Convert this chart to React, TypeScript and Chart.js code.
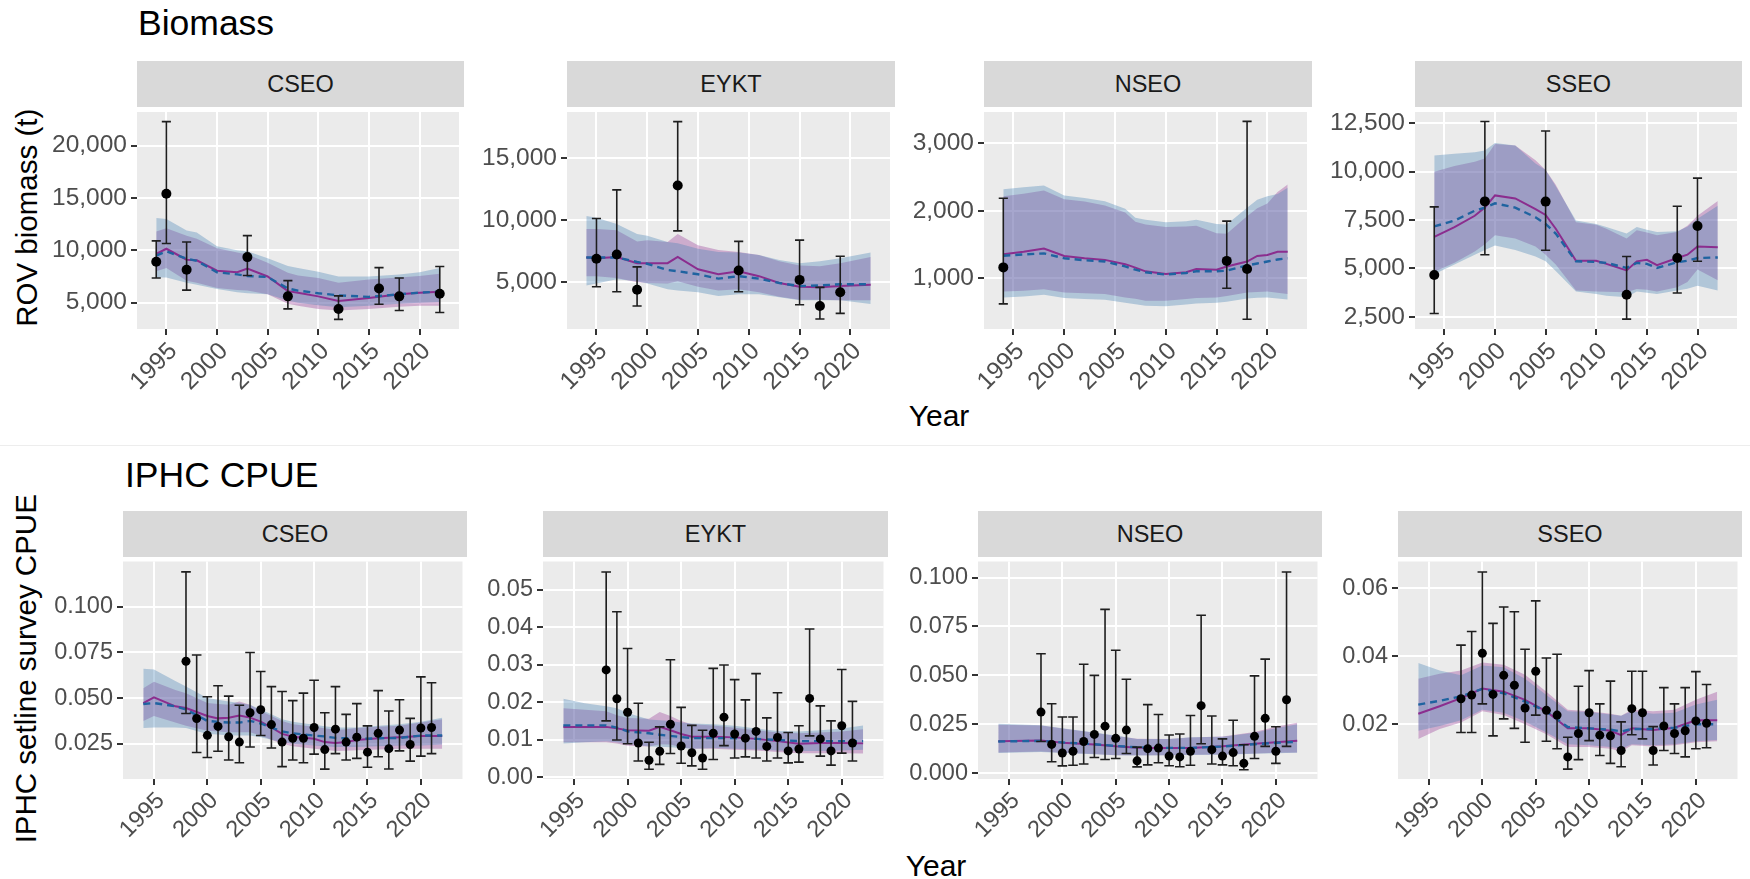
import React, { useEffect, useRef } from "react";
import { Chart, registerables } from "chart.js";

Chart.register(...registerables);

const FONT = "'Liberation Sans', Arial, Helvetica, sans-serif";

// ---------------- DATA ----------------
const xTickYears = [1995, 2000, 2005, 2010, 2015, 2020];
const cpueObsYears = [1998, 1999, 2000, 2001, 2002, 2003, 2004, 2005, 2006, 2007, 2008, 2009, 2010, 2011, 2012, 2013, 2014, 2015, 2016, 2017, 2018, 2019, 2020, 2021];

// Biomass - CSEO
const bioCseoYTicks = [5000, 10000, 15000, 20000];
const bioCseoYLabels = ["5,000", "10,000", "15,000", "20,000"];
const bioCseoFitYears = [1994, 1995, 1997, 1998, 2000, 2002, 2003, 2005, 2007, 2008, 2010, 2012, 2015, 2018, 2020, 2022];
const bioCseoFit1 = [9650, 10150, 9100, 9050, 8050, 7900, 8250, 7500, 6100, 5950, 5600, 5150, 5450, 5800, 5950, 6050];
const bioCseoFit1Lo = [8000, 8300, 7100, 6900, 6400, 6200, 6150, 5800, 4900, 4700, 4400, 4250, 4400, 4600, 4700, 4700];
const bioCseoFit1Hi = [11800, 12100, 11400, 11100, 10200, 9800, 9600, 8800, 7850, 7600, 7350, 6900, 7200, 7400, 7550, 7750];
const bioCseoFit2 = [9500, 9900, 9200, 9000, 7900, 7700, 7550, 7450, 6350, 6150, 5900, 5700, 5550, 5800, 5950, 6050];
const bioCseoFit2Lo = [7400, 7400, 6900, 6700, 6300, 6000, 5900, 5800, 5200, 5000, 4750, 4550, 4700, 4900, 5000, 5050];
const bioCseoFit2Hi = [13100, 13000, 11900, 11700, 10400, 10000, 9900, 9250, 8500, 8300, 7950, 7500, 7500, 7700, 7900, 8300];
const bioCseoObsYears = [1994, 1995, 1997, 2003, 2007, 2012, 2016, 2018, 2022];
const bioCseoObs = [8900, 15400, 8150, 9350, 5600, 4400, 6350, 5600, 5850];
const bioCseoObsLo = [7350, 10650, 6200, 7600, 4400, 3400, 4850, 4250, 4050];
const bioCseoObsHi = [10900, 22300, 10800, 11400, 7100, 5650, 8350, 7350, 8450];

// Biomass - EYKT
const bioEyktYTicks = [5000, 10000, 15000];
const bioEyktYLabels = ["5,000", "10,000", "15,000"];
const bioEyktFitYears = [1994, 1995, 1997, 1999, 2000, 2002, 2003, 2005, 2007, 2009, 2011, 2013, 2015, 2017, 2019, 2022];
const bioEyktFit1 = [7000, 6950, 7050, 6550, 6550, 6550, 7050, 6050, 5650, 5900, 5500, 4950, 4650, 4600, 4700, 4800];
const bioEyktFit1Lo = [5500, 5500, 5350, 5000, 4950, 4900, 5100, 4650, 4350, 4450, 4200, 3850, 3600, 3600, 3550, 3550];
const bioEyktFit1Hi = [9300, 9300, 9200, 8300, 8400, 8250, 8900, 8000, 7600, 7450, 7200, 6700, 6350, 6300, 6550, 7050];
const bioEyktFit2 = [7000, 7000, 7000, 6650, 6500, 6000, 5900, 5650, 5300, 5500, 5300, 4950, 4700, 4750, 4850, 4850];
const bioEyktFit2Lo = [4750, 4900, 5250, 5100, 4900, 4450, 4350, 4200, 3900, 4050, 4050, 3800, 3550, 3550, 3550, 3250];
const bioEyktFit2Hi = [10350, 10200, 9700, 8900, 8750, 8250, 8150, 7700, 7450, 7400, 7200, 6800, 6550, 6700, 6950, 7400];
const bioEyktObsYears = [1995, 1997, 1999, 2003, 2009, 2015, 2017, 2019];
const bioEyktObs = [6900, 7250, 4400, 12800, 5950, 5200, 3100, 4200];
const bioEyktObsLo = [4650, 4250, 3100, 9150, 4250, 3200, 2050, 2500];
const bioEyktObsHi = [10150, 12450, 6250, 17950, 8300, 8400, 4600, 7100];

// Biomass - NSEO
const bioNseoYTicks = [1000, 2000, 3000];
const bioNseoYLabels = ["1,000", "2,000", "3,000"];
const bioNseoFitYears = [1994, 1996, 1998, 2000, 2002, 2004, 2006, 2007, 2008, 2010, 2012, 2013, 2015, 2016, 2018, 2019, 2020, 2021, 2022];
const bioNseoFit1 = [1357, 1395, 1443, 1333, 1299, 1275, 1212, 1160, 1106, 1067, 1092, 1140, 1130, 1178, 1251, 1333, 1347, 1395, 1395];
const bioNseoFit1Lo = [807, 820, 841, 793, 780, 769, 720, 700, 672, 672, 696, 710, 720, 740, 793, 800, 807, 790, 769];
const bioNseoFit1Hi = [2215, 2253, 2300, 2170, 2140, 2080, 1975, 1840, 1800, 1760, 1770, 1780, 1670, 1660, 1920, 2040, 2110, 2280, 2390];
const bioNseoFit2 = [1337, 1355, 1371, 1299, 1270, 1251, 1178, 1130, 1092, 1058, 1082, 1106, 1106, 1116, 1193, 1222, 1251, 1280, 1299];
const bioNseoFit2Lo = [720, 735, 760, 710, 695, 685, 640, 620, 595, 590, 615, 630, 640, 655, 705, 715, 720, 705, 690];
const bioNseoFit2Hi = [2321, 2350, 2374, 2229, 2190, 2142, 2030, 1900, 1870, 1830, 1845, 1868, 1805, 1800, 2046, 2166, 2215, 2250, 2340];
const bioNseoObsYears = [1994, 2016, 2018];
const bioNseoObs = [1164, 1260, 1140];
const bioNseoObsLo = [624, 855, 397];
const bioNseoObsHi = [2186, 1848, 3323];

// Biomass - SSEO
const bioSseoYTicks = [2500, 5000, 7500, 10000, 12500];
const bioSseoYLabels = ["2,500", "5,000", "7,500", "10,000", "12,500"];
const bioSseoFitYears = [1994, 1996, 1998, 1999, 2000, 2002, 2004, 2005, 2006, 2008, 2010, 2011, 2013, 2014, 2015, 2016, 2018, 2019, 2020, 2022];
const bioSseoFit1 = [6630, 7130, 7720, 8140, 8770, 8610, 8060, 7760, 7050, 5400, 5400, 5240, 4900, 5370, 5450, 5170, 5540, 5710, 6130, 6090];
const bioSseoFit1Lo = [4830, 5290, 5870, 6250, 6720, 6550, 6130, 5710, 5200, 3860, 3820, 3800, 3770, 3940, 3900, 3820, 4030, 4300, 4950, 4400];
const bioSseoFit1Hi = [9990, 10280, 10500, 10670, 11420, 11340, 10580, 10080, 9320, 7390, 7250, 7050, 6550, 6970, 6850, 6720, 6880, 7200, 7720, 8480];
const bioSseoFit2 = [7170, 7470, 7980, 8140, 8360, 8140, 7640, 7300, 6800, 5370, 5340, 5290, 5030, 5290, 5240, 5030, 5320, 5400, 5540, 5570];
const bioSseoFit2Lo = [4700, 5200, 5710, 5950, 6180, 5960, 5620, 5370, 4870, 3820, 3690, 3600, 3520, 3820, 3750, 3690, 3860, 3950, 4110, 3860];
const bioSseoFit2Hi = [10830, 10920, 11000, 11090, 11470, 11340, 10410, 10080, 9240, 7470, 7300, 7140, 6800, 7140, 7000, 6880, 6920, 7150, 7560, 8230];
const bioSseoObsYears = [1994, 1999, 2005, 2013, 2018, 2020];
const bioSseoObs = [4660, 8460, 8450, 3650, 5540, 7190];
const bioSseoObsLo = [2680, 5710, 5940, 2390, 3740, 5370];
const bioSseoObsHi = [8180, 12580, 12090, 5620, 8210, 9660];

// IPHC CPUE - CSEO
const cpueCseoYTicks = [0.025, 0.05, 0.075, 0.1];
const cpueCseoYLabels = ["0.025", "0.050", "0.075", "0.100"];
const cpueCseoFitYears = [1994, 1995, 1997, 1998, 2000, 2001, 2002, 2003, 2004, 2005, 2006, 2007, 2008, 2010, 2011, 2012, 2013, 2014, 2016, 2018, 2020, 2022];
const cpueCseoFit1 = [0.0473, 0.0504, 0.0455, 0.0446, 0.0402, 0.0389, 0.0393, 0.0405, 0.0393, 0.0371, 0.0339, 0.0304, 0.0289, 0.0277, 0.0259, 0.0254, 0.0259, 0.0271, 0.028, 0.0286, 0.0293, 0.0293];
const cpueCseoFit1Lo = [0.0375, 0.0402, 0.0366, 0.0348, 0.0321, 0.0317, 0.0313, 0.0313, 0.0313, 0.0295, 0.0272, 0.025, 0.0236, 0.0223, 0.0217, 0.0211, 0.0212, 0.0214, 0.0218, 0.0223, 0.0223, 0.0223];
const cpueCseoFit1Hi = [0.0554, 0.0589, 0.0545, 0.0527, 0.0473, 0.0468, 0.0464, 0.0482, 0.0464, 0.0429, 0.0402, 0.0375, 0.0357, 0.0343, 0.0335, 0.0325, 0.033, 0.0336, 0.0343, 0.0348, 0.0366, 0.0384];
const cpueCseoFit2 = [0.0468, 0.0473, 0.0455, 0.0438, 0.0375, 0.037, 0.0366, 0.0366, 0.0375, 0.0361, 0.0339, 0.0318, 0.0307, 0.0295, 0.029, 0.0282, 0.028, 0.0277, 0.028, 0.0282, 0.0295, 0.0295];
const cpueCseoFit2Lo = [0.0336, 0.0339, 0.0339, 0.0336, 0.0304, 0.03, 0.0295, 0.0295, 0.0295, 0.0286, 0.0272, 0.0259, 0.025, 0.0241, 0.0236, 0.0232, 0.0232, 0.0232, 0.0236, 0.0241, 0.0241, 0.0246];
const cpueCseoFit2Hi = [0.0661, 0.0657, 0.0593, 0.0563, 0.05, 0.0491, 0.0482, 0.0473, 0.0464, 0.0438, 0.0411, 0.0384, 0.0371, 0.0354, 0.0346, 0.0339, 0.0339, 0.0339, 0.0348, 0.0357, 0.0371, 0.0393];
const cpueCseoObs = [0.0702, 0.0388, 0.0296, 0.0345, 0.0288, 0.0259, 0.042, 0.0436, 0.0355, 0.0259, 0.028, 0.028, 0.0339, 0.0218, 0.033, 0.0259, 0.0286, 0.0204, 0.0307, 0.0223, 0.0325, 0.0246, 0.0336, 0.0339];
const cpueCseoObsLo = [0.0416, 0.0202, 0.0175, 0.0209, 0.0161, 0.0146, 0.0232, 0.0295, 0.0227, 0.0125, 0.0161, 0.0146, 0.0193, 0.0111, 0.0196, 0.0161, 0.017, 0.0121, 0.0179, 0.0112, 0.0211, 0.0155, 0.0182, 0.0196];
const cpueCseoObsHi = [0.1191, 0.0736, 0.0507, 0.0568, 0.0511, 0.0461, 0.075, 0.0646, 0.0563, 0.0536, 0.0486, 0.0527, 0.0598, 0.042, 0.0563, 0.0411, 0.047, 0.0348, 0.0541, 0.0429, 0.0491, 0.0389, 0.0616, 0.0584];

// IPHC CPUE - EYKT
const cpueEyktYTicks = [0, 0.01, 0.02, 0.03, 0.04, 0.05];
const cpueEyktYLabels = ["0.00", "0.01", "0.02", "0.03", "0.04", "0.05"];
const cpueEyktFitYears = [1994, 1996, 1998, 1999, 2000, 2002, 2003, 2004, 2005, 2006, 2008, 2010, 2012, 2014, 2016, 2018, 2020, 2022];
const cpueEyktFit1 = [0.0134, 0.0134, 0.0134, 0.013, 0.0125, 0.0124, 0.0134, 0.0125, 0.0115, 0.0108, 0.0108, 0.0106, 0.0102, 0.0096, 0.0089, 0.0091, 0.0091, 0.009];
const cpueEyktFit1Lo = [0.0093, 0.0093, 0.0093, 0.009, 0.0084, 0.0082, 0.0088, 0.0087, 0.008, 0.0076, 0.0076, 0.0073, 0.0071, 0.0067, 0.0064, 0.0064, 0.0064, 0.0063];
const cpueEyktFit1Hi = [0.0184, 0.018, 0.0176, 0.0165, 0.0158, 0.0156, 0.0174, 0.0163, 0.015, 0.0141, 0.0138, 0.0132, 0.0125, 0.0119, 0.0117, 0.0119, 0.0122, 0.0128];
const cpueEyktFit2 = [0.0138, 0.0138, 0.0138, 0.0132, 0.0122, 0.0117, 0.0113, 0.011, 0.0107, 0.0104, 0.0104, 0.0104, 0.0102, 0.0099, 0.0096, 0.0096, 0.0096, 0.0096];
const cpueEyktFit2Lo = [0.009, 0.0093, 0.0096, 0.0093, 0.0089, 0.0082, 0.0081, 0.008, 0.0078, 0.0076, 0.0078, 0.0076, 0.0074, 0.0071, 0.007, 0.007, 0.0071, 0.0073];
const cpueEyktFit2Hi = [0.0209, 0.0197, 0.0189, 0.0184, 0.0171, 0.0154, 0.0152, 0.015, 0.0146, 0.0143, 0.0141, 0.0137, 0.013, 0.0123, 0.0122, 0.0125, 0.013, 0.0138];
const cpueEyktObs = [0.0286, 0.0209, 0.0173, 0.0091, 0.0045, 0.0069, 0.0141, 0.0083, 0.0065, 0.0051, 0.0117, 0.016, 0.0115, 0.0104, 0.0122, 0.0082, 0.0106, 0.007, 0.0075, 0.021, 0.0102, 0.007, 0.0137, 0.0091];
const cpueEyktObsLo = [0.015, 0.0099, 0.0089, 0.0043, 0.0021, 0.0034, 0.0063, 0.0037, 0.003, 0.0021, 0.0047, 0.0084, 0.0051, 0.0054, 0.0051, 0.0043, 0.0051, 0.0038, 0.004, 0.011, 0.0056, 0.0032, 0.0064, 0.0043];
const cpueEyktObsHi = [0.0547, 0.0441, 0.0343, 0.0197, 0.0093, 0.0134, 0.0313, 0.0186, 0.0138, 0.0125, 0.029, 0.0299, 0.026, 0.0206, 0.0276, 0.0158, 0.0225, 0.0119, 0.0137, 0.0395, 0.019, 0.015, 0.0287, 0.0202];

// IPHC CPUE - NSEO
const cpueNseoYTicks = [0, 0.025, 0.05, 0.075, 0.1];
const cpueNseoYLabels = ["0.000", "0.025", "0.050", "0.075", "0.100"];
const cpueNseoFitYears = [1994, 1998, 2000, 2003, 2005, 2007, 2010, 2012, 2015, 2018, 2020, 2022];
const cpueNseoFit1 = [0.0163, 0.0167, 0.0155, 0.0147, 0.0137, 0.013, 0.0128, 0.0128, 0.0137, 0.015, 0.0158, 0.0165];
const cpueNseoFit1Lo = [0.0105, 0.011, 0.0104, 0.0098, 0.0092, 0.0091, 0.0092, 0.0094, 0.0095, 0.01, 0.0104, 0.0106];
const cpueNseoFit1Hi = [0.0248, 0.0243, 0.0228, 0.0206, 0.019, 0.0176, 0.0175, 0.0182, 0.0187, 0.021, 0.0237, 0.0258];
const cpueNseoFit2 = [0.0162, 0.0165, 0.0157, 0.0148, 0.0139, 0.0132, 0.0129, 0.0129, 0.0136, 0.0148, 0.0155, 0.016];
const cpueNseoFit2Lo = [0.0103, 0.0108, 0.0103, 0.0097, 0.0092, 0.009, 0.0091, 0.0093, 0.0094, 0.0099, 0.0102, 0.0104];
const cpueNseoFit2Hi = [0.0253, 0.0245, 0.023, 0.0208, 0.0192, 0.0175, 0.0174, 0.0183, 0.0186, 0.0206, 0.023, 0.025];
const cpueNseoObs = [0.0312, 0.0147, 0.0103, 0.0112, 0.0162, 0.0198, 0.024, 0.0178, 0.022, 0.0063, 0.0125, 0.0128, 0.0087, 0.0083, 0.0112, 0.0345, 0.012, 0.0087, 0.0105, 0.005, 0.0188, 0.028, 0.0112, 0.0375];
const cpueNseoObsLo = [0.0162, 0.0058, 0.0037, 0.004, 0.0047, 0.008, 0.007, 0.0075, 0.01, 0.0032, 0.0042, 0.0053, 0.0038, 0.0033, 0.004, 0.015, 0.0047, 0.0042, 0.0038, 0.0017, 0.0075, 0.0137, 0.005, 0.0137];
const cpueNseoObsHi = [0.061, 0.0355, 0.0287, 0.0287, 0.0557, 0.05, 0.0837, 0.0628, 0.048, 0.0133, 0.035, 0.03, 0.0195, 0.02, 0.0295, 0.0807, 0.0292, 0.0175, 0.027, 0.0145, 0.0497, 0.0583, 0.0237, 0.1028];

// IPHC CPUE - SSEO
const cpueSseoYTicks = [0.02, 0.04, 0.06];
const cpueSseoYLabels = ["0.02", "0.04", "0.06"];
const cpueSseoFitYears = [1994, 1996, 1998, 2000, 2002, 2004, 2006, 2008, 2010, 2012, 2013, 2014, 2016, 2018, 2020, 2022];
const cpueSseoFit1 = [0.0231, 0.0253, 0.0277, 0.0305, 0.0296, 0.0272, 0.0238, 0.0188, 0.0188, 0.0181, 0.0168, 0.0188, 0.0183, 0.019, 0.0212, 0.0212];
const cpueSseoFit1Lo = [0.0157, 0.0186, 0.0205, 0.0238, 0.0227, 0.02, 0.0171, 0.0133, 0.0133, 0.0128, 0.012, 0.0138, 0.0135, 0.0138, 0.0147, 0.015];
const cpueSseoFit1Hi = [0.0334, 0.0349, 0.0358, 0.0382, 0.0375, 0.0346, 0.0296, 0.0243, 0.0238, 0.0231, 0.0225, 0.0243, 0.0238, 0.0243, 0.0272, 0.0296];
const cpueSseoFit2 = [0.0258, 0.0269, 0.0282, 0.0304, 0.0291, 0.0267, 0.0238, 0.0192, 0.0188, 0.0184, 0.0179, 0.0186, 0.0186, 0.019, 0.02, 0.02];
const cpueSseoFit2Lo = [0.0181, 0.0195, 0.0212, 0.0243, 0.0234, 0.0208, 0.0176, 0.0141, 0.0138, 0.0133, 0.0128, 0.0141, 0.0138, 0.0141, 0.015, 0.0154];
const cpueSseoFit2Hi = [0.038, 0.0358, 0.0344, 0.0373, 0.0368, 0.0334, 0.0286, 0.0238, 0.0236, 0.0229, 0.0225, 0.0238, 0.0231, 0.0234, 0.0258, 0.0272];
const cpueSseoObs = [0.0275, 0.0286, 0.0409, 0.0288, 0.0344, 0.0315, 0.0248, 0.0356, 0.0241, 0.0227, 0.0104, 0.0173, 0.0234, 0.0168, 0.0166, 0.0123, 0.0246, 0.0234, 0.0123, 0.0195, 0.0173, 0.0181, 0.021, 0.0203];
const cpueSseoObsLo = [0.0176, 0.0176, 0.026, 0.0166, 0.0216, 0.0188, 0.0147, 0.0227, 0.015, 0.0128, 0.0068, 0.0096, 0.0152, 0.0108, 0.0085, 0.0075, 0.0169, 0.0157, 0.008, 0.0123, 0.0114, 0.0104, 0.0128, 0.0131];
const cpueSseoObsHi = [0.0433, 0.0473, 0.0648, 0.0497, 0.0545, 0.0531, 0.0421, 0.0563, 0.0395, 0.0406, 0.0162, 0.0312, 0.0358, 0.026, 0.0327, 0.0207, 0.0356, 0.0356, 0.0193, 0.0308, 0.026, 0.0308, 0.0355, 0.0317];

// ---------------- STYLE / LAYOUT ----------------
const X_MIN = 1992.1;
const X_MAX = 2023.9;
const CAP = 0.45;
const Y_W = 100;
const X_H = 75;
const PANEL_BG = "#EBEBEB";
const STRIP_BG = "#D9D9D9";
const PINK = "rgba(135,28,135,0.30)";
const BLUE_FILL = "rgba(70,130,180,0.35)";
const PURPLE = "#8B2D8E";
const BLUE = "#1F63A0";

type Panel = {
  label: string;
  left: number; top: number; w: number; h: number;
  yMin: number; yMax: number; r: number; fs: number;
  yTicks: number[]; yLabels: string[];
  fitYears: number[]; fit1: number[]; fit1Lo: number[]; fit1Hi: number[];
  fit2: number[]; fit2Lo: number[]; fit2Hi: number[];
  obsYears: number[]; obs: number[]; obsLo: number[]; obsHi: number[];
};

const TOP_PLOT = 107;
const BOT_PLOT = 557;
const PLOT_H = 222;
const STRIP_H = 46;
const TOP_FS = 24.5;
const BOT_FS = 23.5;

const PANELS: Panel[] = [
  { label: "CSEO", left: 137, top: TOP_PLOT, w: 327, h: PLOT_H, yMin: 2480, yMax: 23220, r: 5, fs: TOP_FS,
    yTicks: bioCseoYTicks, yLabels: bioCseoYLabels, fitYears: bioCseoFitYears,
    fit1: bioCseoFit1, fit1Lo: bioCseoFit1Lo, fit1Hi: bioCseoFit1Hi, fit2: bioCseoFit2, fit2Lo: bioCseoFit2Lo, fit2Hi: bioCseoFit2Hi,
    obsYears: bioCseoObsYears, obs: bioCseoObs, obsLo: bioCseoObsLo, obsHi: bioCseoObsHi },
  { label: "EYKT", left: 567, top: TOP_PLOT, w: 328, h: PLOT_H, yMin: 1244, yMax: 18724, r: 5, fs: TOP_FS,
    yTicks: bioEyktYTicks, yLabels: bioEyktYLabels, fitYears: bioEyktFitYears,
    fit1: bioEyktFit1, fit1Lo: bioEyktFit1Lo, fit1Hi: bioEyktFit1Hi, fit2: bioEyktFit2, fit2Lo: bioEyktFit2Lo, fit2Hi: bioEyktFit2Hi,
    obsYears: bioEyktObsYears, obs: bioEyktObs, obsLo: bioEyktObsLo, obsHi: bioEyktObsHi },
  { label: "NSEO", left: 984, top: TOP_PLOT, w: 328, h: PLOT_H, yMin: 253, yMax: 3462, r: 5, fs: TOP_FS,
    yTicks: bioNseoYTicks, yLabels: bioNseoYLabels, fitYears: bioNseoFitYears,
    fit1: bioNseoFit1, fit1Lo: bioNseoFit1Lo, fit1Hi: bioNseoFit1Hi, fit2: bioNseoFit2, fit2Lo: bioNseoFit2Lo, fit2Hi: bioNseoFit2Hi,
    obsYears: bioNseoObsYears, obs: bioNseoObs, obsLo: bioNseoObsLo, obsHi: bioNseoObsHi },
  { label: "SSEO", left: 1415, top: TOP_PLOT, w: 327, h: PLOT_H, yMin: 1880, yMax: 13070, r: 5, fs: TOP_FS,
    yTicks: bioSseoYTicks, yLabels: bioSseoYLabels, fitYears: bioSseoFitYears,
    fit1: bioSseoFit1, fit1Lo: bioSseoFit1Lo, fit1Hi: bioSseoFit1Hi, fit2: bioSseoFit2, fit2Lo: bioSseoFit2Lo, fit2Hi: bioSseoFit2Hi,
    obsYears: bioSseoObsYears, obs: bioSseoObs, obsLo: bioSseoObsLo, obsHi: bioSseoObsHi },
  { label: "CSEO", left: 123, top: BOT_PLOT, w: 344, h: PLOT_H, yMin: 0.0057, yMax: 0.1248, r: 4.5, fs: BOT_FS,
    yTicks: cpueCseoYTicks, yLabels: cpueCseoYLabels, fitYears: cpueCseoFitYears,
    fit1: cpueCseoFit1, fit1Lo: cpueCseoFit1Lo, fit1Hi: cpueCseoFit1Hi, fit2: cpueCseoFit2, fit2Lo: cpueCseoFit2Lo, fit2Hi: cpueCseoFit2Hi,
    obsYears: cpueObsYears, obs: cpueCseoObs, obsLo: cpueCseoObsLo, obsHi: cpueCseoObsHi },
  { label: "EYKT", left: 543, top: BOT_PLOT, w: 345, h: PLOT_H, yMin: -0.0005, yMax: 0.0575, r: 4.5, fs: BOT_FS,
    yTicks: cpueEyktYTicks, yLabels: cpueEyktYLabels, fitYears: cpueEyktFitYears,
    fit1: cpueEyktFit1, fit1Lo: cpueEyktFit1Lo, fit1Hi: cpueEyktFit1Hi, fit2: cpueEyktFit2, fit2Lo: cpueEyktFit2Lo, fit2Hi: cpueEyktFit2Hi,
    obsYears: cpueObsYears, obs: cpueEyktObs, obsLo: cpueEyktObsLo, obsHi: cpueEyktObsHi },
  { label: "NSEO", left: 978, top: BOT_PLOT, w: 344, h: PLOT_H, yMin: -0.003, yMax: 0.1082, r: 4.5, fs: BOT_FS,
    yTicks: cpueNseoYTicks, yLabels: cpueNseoYLabels, fitYears: cpueNseoFitYears,
    fit1: cpueNseoFit1, fit1Lo: cpueNseoFit1Lo, fit1Hi: cpueNseoFit1Hi, fit2: cpueNseoFit2, fit2Lo: cpueNseoFit2Lo, fit2Hi: cpueNseoFit2Hi,
    obsYears: cpueObsYears, obs: cpueNseoObs, obsLo: cpueNseoObsLo, obsHi: cpueNseoObsHi },
  { label: "SSEO", left: 1398, top: BOT_PLOT, w: 344, h: PLOT_H, yMin: 0.0039, yMax: 0.0679, r: 4.5, fs: BOT_FS,
    yTicks: cpueSseoYTicks, yLabels: cpueSseoYLabels, fitYears: cpueSseoFitYears,
    fit1: cpueSseoFit1, fit1Lo: cpueSseoFit1Lo, fit1Hi: cpueSseoFit1Hi, fit2: cpueSseoFit2, fit2Lo: cpueSseoFit2Lo, fit2Hi: cpueSseoFit2Hi,
    obsYears: cpueObsYears, obs: cpueSseoObs, obsLo: cpueSseoObsLo, obsHi: cpueSseoObsHi },
];

const panelBgPlugin = {
  id: "panelBg",
  beforeDraw(chart: any) {
    const { ctx, chartArea: a } = chart;
    ctx.save();
    ctx.fillStyle = PANEL_BG;
    ctx.fillRect(a.left, a.top, a.right - a.left, a.bottom - a.top);
    ctx.restore();
  },
};

function pts(xs: number[], ys: number[]) {
  return xs.map((x, i) => ({ x, y: ys[i] }));
}

function PanelChart({ p }: { p: Panel }) {
  const ref = useRef<HTMLCanvasElement>(null);
  useEffect(() => {
    const canvas = ref.current;
    if (!canvas) return;
    const err: any[] = [];
    p.obsYears.forEach((yr, i) => {
      const lo = p.obsLo[i];
      const hi = p.obsHi[i];
      err.push({ x: yr, y: lo }, { x: yr, y: hi }, { x: yr, y: null });
      err.push({ x: yr - CAP, y: hi }, { x: yr + CAP, y: hi }, { x: yr, y: null });
      err.push({ x: yr - CAP, y: lo }, { x: yr + CAP, y: lo }, { x: yr, y: null });
    });
    const none = "rgba(0,0,0,0)";
    const ribbon = (data: any, fill: any, color: string, order: number) => ({
      data, fill, backgroundColor: color, borderColor: none, borderWidth: 0, pointRadius: 0, tension: 0, order,
    });
    const chart = new Chart(canvas, {
      type: "line",
      data: {
        datasets: [
          ribbon(pts(p.fitYears, p.fit1Hi), "+1", PINK, 20),
          ribbon(pts(p.fitYears, p.fit1Lo), false, none, 19),
          ribbon(pts(p.fitYears, p.fit2Hi), "+1", BLUE_FILL, 18),
          ribbon(pts(p.fitYears, p.fit2Lo), false, none, 17),
          { data: pts(p.fitYears, p.fit1), borderColor: PURPLE, borderWidth: 2, pointRadius: 0, fill: false, tension: 0, order: 6 },
          { data: pts(p.fitYears, p.fit2), borderColor: BLUE, borderWidth: 2.4, borderDash: [7, 5], pointRadius: 0, fill: false, tension: 0, order: 5 },
          { data: err, borderColor: "#1E1E1E", borderWidth: 1.6, pointRadius: 0, fill: false, spanGaps: false, tension: 0, order: 2 },
          { data: pts(p.obsYears, p.obs), showLine: false, pointRadius: p.r, pointBackgroundColor: "#000", pointBorderWidth: 0, borderColor: "#000", order: 1 },
        ] as any,
      },
      options: {
        responsive: false,
        animation: false,
        devicePixelRatio: 1,
        events: [],
        layout: { padding: 0 },
        plugins: { legend: { display: false }, tooltip: { enabled: false } },
        scales: {
          x: {
            type: "linear",
            min: X_MIN,
            max: X_MAX,
            afterBuildTicks: (s: any) => { s.ticks = xTickYears.map((v) => ({ value: v })); },
            afterFit: (s: any) => { s.height = X_H; s.paddingLeft = 0; s.paddingRight = 0; },
            border: { display: false },
            grid: { color: "#FFFFFF", lineWidth: 2, tickColor: "#333333", tickLength: 6, tickWidth: 2 },
            ticks: {
              autoSkip: false, minRotation: 45, maxRotation: 45, padding: 2, labelOffset: 7,
              color: "#4D4D4D", font: { family: FONT, size: p.fs },
              callback: (v: any) => String(v),
            },
          },
          y: {
            type: "linear",
            min: p.yMin,
            max: p.yMax,
            afterBuildTicks: (s: any) => { s.ticks = p.yTicks.map((v) => ({ value: v })); },
            afterFit: (s: any) => { s.width = Y_W; s.paddingTop = 0; s.paddingBottom = 0; },
            border: { display: false },
            grid: { color: "#FFFFFF", lineWidth: 2, tickColor: "#333333", tickLength: 6, tickWidth: 2 },
            ticks: {
              padding: 4, color: "#4D4D4D", font: { family: FONT, size: p.fs },
              callback: (v: any) => {
                const i = p.yTicks.findIndex((t) => Math.abs(t - v) < 1e-9);
                return i >= 0 ? p.yLabels[i] : "";
              },
            },
          },
        },
      } as any,
      plugins: [panelBgPlugin],
    });
    return () => chart.destroy();
  }, [p]);
  const W = Y_W + p.w;
  const H = p.h + X_H;
  return (
    <canvas
      ref={ref}
      width={W}
      height={H}
      style={{ position: "absolute", left: p.left - Y_W, top: p.top, width: W, height: H }}
    />
  );
}

function Strip({ p }: { p: Panel }) {
  return (
    <div
      style={{
        position: "absolute", left: p.left, top: p.top - STRIP_H, width: p.w, height: STRIP_H,
        background: STRIP_BG, color: "#1A1A1A", fontFamily: FONT, fontSize: 23.5,
        display: "flex", alignItems: "center", justifyContent: "center",
      }}
    >
      {p.label}
    </div>
  );
}

function Text({ x, y, size, children, center }: any) {
  return (
    <div
      style={{
        position: "absolute", left: center ? x - 200 : x, top: y - 0.8465 * size, width: center ? 400 : undefined,
        textAlign: center ? "center" : "left", fontFamily: FONT, fontSize: size, lineHeight: `${size}px`,
        color: "#000", whiteSpace: "nowrap",
      }}
    >
      {children}
    </div>
  );
}

function VText({ cx, cy, size, children }: any) {
  return (
    <div
      style={{
        position: "absolute", left: cx - 250, top: cy - size / 2, width: 500, height: size,
        textAlign: "center", fontFamily: FONT, fontSize: size, lineHeight: `${size}px`,
        color: "#000", whiteSpace: "nowrap", transform: "rotate(-90deg)", transformOrigin: "50% 50%",
      }}
    >
      {children}
    </div>
  );
}

export default function App() {
  return (
    <div style={{ position: "absolute", left: 0, top: 0, width: 1750, height: 879, background: "#FFFFFF", overflow: "hidden" }}>
      <Text x={138} y={36} size={35.5}>Biomass</Text>
      <Text x={125} y={488} size={35.5}>IPHC CPUE</Text>
      <div style={{ position: "absolute", left: 0, top: 445, width: 1750, height: 1, background: "#EDEDED" }} />
      <VText cx={27} cy={218} size={29.5}>ROV biomass (t)</VText>
      <VText cx={26} cy={669} size={29.5}>IPHC setline survey CPUE</VText>
      <Text x={939} y={426} size={30} center>Year</Text>
      <Text x={936} y={876} size={30} center>Year</Text>
      {PANELS.map((p, i) => (
        <React.Fragment key={i}>
          <Strip p={p} />
          <PanelChart p={p} />
        </React.Fragment>
      ))}
    </div>
  );
}
